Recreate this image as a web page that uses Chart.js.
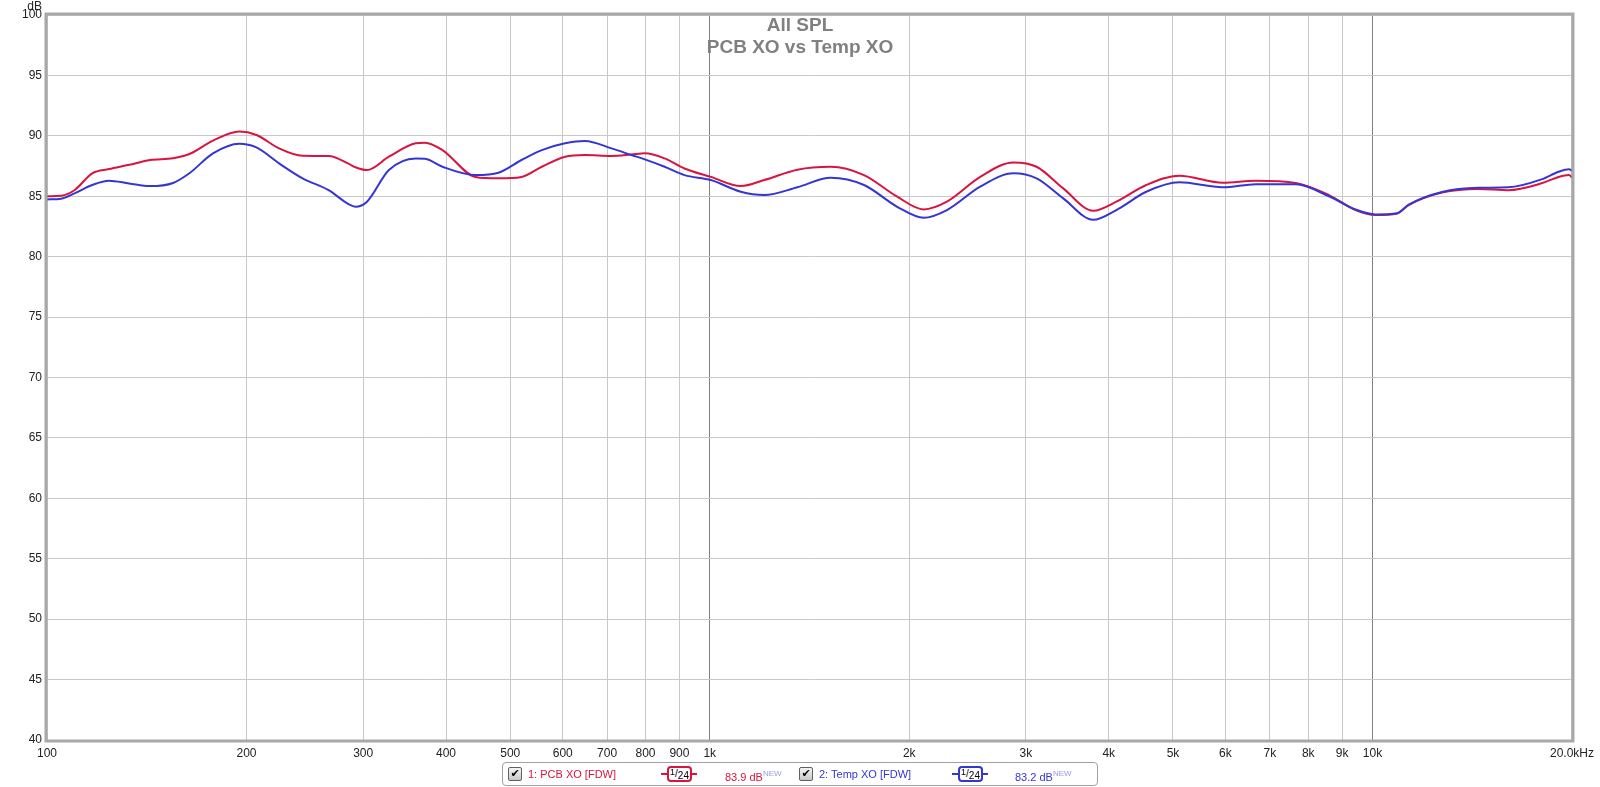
<!DOCTYPE html>
<html>
<head>
<meta charset="utf-8">
<title>All SPL</title>
<script src="https://cdn.jsdelivr.net/npm/chart.js@4"></script>
<style>
    html, body {
        margin: 0;
        padding: 0;
        background: #ffffff;
    }

    #wrap {
        position: relative;
        width: 1600px;
        height: 787px;
        font-family: "Liberation Sans", Arial, sans-serif;
    }

    #splChart {
        position: absolute;
        left: 0;
        top: 0;
    }

    #legendBox {
        position: absolute;
        left: 502px;
        top: 762px;
        width: 594px;
        height: 22px;
        border: 1px solid #a0a0a0;
        border-radius: 4px;
        background: #ffffff;
        font-size: 11px;
    }

    .item {
        position: absolute;
        top: 0;
        height: 22px;
        line-height: 22px;
        white-space: nowrap;
    }

    .check {
        position: absolute;
        top: 4px;
        width: 12px;
        height: 12px;
        border: 1px solid #606060;
        border-radius: 2px;
        background: linear-gradient(#f4f4f4, #c8c8c8);
        font-family: "DejaVu Sans", sans-serif;
        font-size: 11px;
        line-height: 12px;
        text-align: center;
        color: #000000;
    }

    .smooth {
        position: absolute;
        top: 0;
        width: 36px;
        height: 22px;
    }

    .smooth .wire {
        position: absolute;
        left: 0;
        top: 10px;
        width: 36px;
        height: 2px;
    }

    .smooth .badge {
        position: absolute;
        left: 6px;
        top: 3px;
        width: 21px;
        height: 12px;
        border: 2px solid;
        border-radius: 4px;
        background: #ffffff;
        color: #000000;
        font-size: 10px;
        line-height: 12px;
        text-align: center;
    }

    .badge .num {
        position: relative;
        top: -2px;
        font-size: 9px;
    }

    .badge .den {
        position: relative;
        top: 2px;
        font-size: 10px;
    }

    .new {
        font-size: 8px;
        vertical-align: 5px;
        color: #9a9aee;
    }
</style>
</head>
<body>
<div id="wrap">
    <canvas id="splChart" width="1600" height="787"></canvas>

    <div id="legendBox">
        <div class="check" style="left: 5px;">✔</div>
        <div class="item" style="left: 25px; color: #d81440;">1: PCB XO [FDW]</div>
        <div class="smooth" style="left: 158px;">
            <div class="wire" style="background: #d81440;"></div>
            <div class="badge" style="border-color: #d81440;"><span class="num">1</span>/<span class="den">24</span></div>
        </div>
        <div class="item" style="left: 222px; color: #d81440;">83.9 dB<span class="new">NEW</span></div>

        <div class="check" style="left: 296px;">✔</div>
        <div class="item" style="left: 316px; color: #3535d4;">2: Temp XO [FDW]</div>
        <div class="smooth" style="left: 449px;">
            <div class="wire" style="background: #3535d4;"></div>
            <div class="badge" style="border-color: #3535d4;"><span class="num">1</span>/<span class="den">24</span></div>
        </div>
        <div class="item" style="left: 512px; color: #3535d4;">83.2 dB<span class="new">NEW</span></div>
    </div>
</div>

<script>
// frequencies (Hz)
const freqs = [
    100, 105, 110, 117, 124, 133, 143, 155, 164, 178,
    195, 207, 224, 243, 266, 285, 292, 304, 328, 360,
    372, 395, 443, 480, 520, 558, 605, 648, 711, 762,
    798, 855, 916, 1004, 1114, 1208, 1356, 1522, 1709, 1918,
    2103, 2280, 2559, 2872, 3113, 3415, 3789, 4107, 4557, 5113,
    5943, 6670, 7660, 8596, 9428, 10104, 10900, 11340, 12730, 14450,
    16030, 17990, 19100, 19800, 20000
];

// 1: PCB XO [FDW]
const pcbXO = [
    85.0, 85.05, 85.5, 86.9, 87.25, 87.6, 88.0, 88.15, 88.5, 89.6,
    90.35, 90.07, 88.96, 88.35, 88.33, 87.7, 87.4, 87.17, 88.27, 89.38,
    89.43, 88.82, 86.6, 86.48, 86.6, 87.44, 88.27, 88.41, 88.33, 88.45,
    88.55, 88.13, 87.3, 86.6, 85.84, 86.34, 87.2, 87.44, 86.75, 84.96,
    83.91, 84.55, 86.6, 87.8, 87.44, 85.65, 83.8, 84.55, 85.93, 86.7,
    86.12, 86.28, 86.1, 85.1, 83.86, 83.44, 83.58, 84.27, 85.3, 85.6,
    85.5, 86.07, 86.6, 86.75, 86.56
];

// 2: Temp XO [FDW]
const tempXO = [
    84.74, 84.8, 85.24, 85.93, 86.28, 86.06, 85.84, 86.1, 86.9, 88.55,
    89.35, 89.05, 87.72, 86.48, 85.5, 84.35, 84.13, 84.55, 87.17, 88.13,
    88.1, 87.44, 86.75, 86.95, 88.0, 88.82, 89.38, 89.57, 88.96, 88.41,
    88.05, 87.44, 86.75, 86.34, 85.37, 85.1, 85.74, 86.53, 85.93, 84.13,
    83.22, 83.86, 85.79, 86.9, 86.48, 84.82, 83.05, 83.86, 85.37, 86.15,
    85.74, 86.0, 86.0, 85.0, 83.9, 83.5, 83.6, 84.3, 85.35, 85.7,
    85.74, 86.4, 87.03, 87.23, 87.11
];

const xTickValues = [
    100, 200, 300, 400, 500, 600, 700, 800, 900,
    1000, 2000, 3000, 4000, 5000, 6000, 7000, 8000, 9000,
    10000, 20000
];

const xTickLabels = [
    "100", "200", "300", "400", "500", "600", "700", "800", "900",
    "1k", "2k", "3k", "4k", "5k", "6k", "7k", "8k", "9k",
    "10k", "20.0kHz"
];

const titleLines = ["All SPL", "PCB XO vs Temp XO"];

function toPoints(values) {
    return values.map(function(v, i) {
        return { x: freqs[i], y: v };
    });
}

// frame, title and unit label drawn over the plot
const decorations = {
    id: "decorations",
    afterDraw: function(chart) {
        const ctx = chart.ctx;
        const area = chart.chartArea;

        ctx.save();

        ctx.strokeStyle = "#a8a8a8";
        ctx.lineWidth = 3;
        ctx.strokeRect(
            area.left - 1,
            area.top - 1,
            area.right - area.left + 2,
            area.bottom - area.top + 2
        );

        ctx.fillStyle = "#808080";
        ctx.font = "bold 19px 'Liberation Sans', Arial, sans-serif";
        ctx.textAlign = "center";
        ctx.textBaseline = "middle";
        ctx.fillText(titleLines[0], 800, 26);
        ctx.fillText(titleLines[1], 800, 48);

        ctx.fillStyle = "#222222";
        ctx.font = "12px 'Liberation Sans', Arial, sans-serif";
        ctx.textAlign = "right";
        ctx.textBaseline = "alphabetic";
        ctx.fillText("dB", 42, 10);

        ctx.restore();
    }
};

const tickFont = {
    family: "'Liberation Sans', Arial, sans-serif",
    size: 12
};

new Chart(
    document.getElementById("splChart"),
    {
        type: "line",
        data: {
            datasets: [
                {
                    label: "1: PCB XO [FDW]",
                    data: toPoints(pcbXO),
                    borderColor: "#d81440",
                    borderWidth: 2,
                    pointRadius: 0,
                    cubicInterpolationMode: "monotone",
                    order: 2
                },
                {
                    label: "2: Temp XO [FDW]",
                    data: toPoints(tempXO),
                    borderColor: "#3535d4",
                    borderWidth: 2,
                    pointRadius: 0,
                    cubicInterpolationMode: "monotone",
                    order: 1
                }
            ]
        },
        options: {
            responsive: false,
            animation: false,
            devicePixelRatio: 1,
            layout: {
                padding: { top: 15, right: 23, left: 0, bottom: 0 }
            },
            plugins: {
                legend: { display: false },
                title: { display: false },
                tooltip: { enabled: false }
            },
            scales: {
                x: {
                    type: "logarithmic",
                    min: 100,
                    max: 20000,
                    afterBuildTicks: function(scale) {
                        scale.ticks = xTickValues.map(function(v) {
                            return { value: v };
                        });
                    },
                    afterFit: function(scale) {
                        scale.height = 47;
                    },
                    ticks: {
                        autoSkip: false,
                        maxRotation: 0,
                        padding: 6,
                        color: "#222222",
                        font: tickFont,
                        callback: function(value, index) {
                            return xTickLabels[index];
                        }
                    },
                    grid: {
                        drawTicks: false,
                        color: function(c) {
                            const v = c.tick ? c.tick.value : 0;
                            return (v === 1000 || v === 10000) ? "#808080" : "#c8c8c8";
                        }
                    },
                    border: { display: false }
                },
                y: {
                    min: 40,
                    max: 100,
                    afterFit: function(scale) {
                        scale.width = 47;
                    },
                    ticks: {
                        stepSize: 5,
                        padding: 5,
                        color: "#222222",
                        font: tickFont
                    },
                    grid: {
                        drawTicks: false,
                        color: "#c8c8c8"
                    },
                    border: { display: false }
                }
            }
        },
        plugins: [decorations]
    }
);
</script>
</body>
</html>
